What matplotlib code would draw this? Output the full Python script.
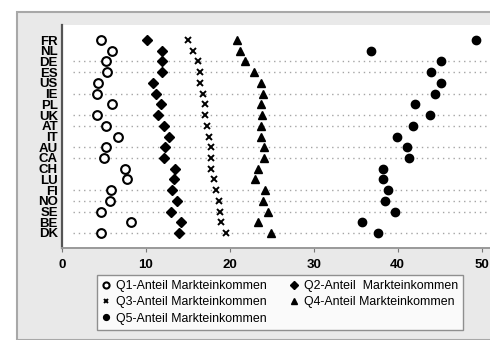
import numpy as np
import matplotlib
matplotlib.use("Agg")
import matplotlib.pyplot as plt
from matplotlib.patches import Rectangle

plt.rcParams['font.family'] = ['Liberation Sans', 'DejaVu Sans']

# data (share of market income, %)
countries = ["FR", "NL", "DE", "ES", "US", "IE", "PL", "UK", "AT", "IT",
             "AU", "CA", "CH", "LU", "FI", "NO", "SE", "BE", "DK"]
q1 = [4.7, 5.9, 5.3, 5.4, 4.3, 4.2, 5.9, 4.2, 5.3, 6.7,
      5.3, 5.0, 7.5, 7.8, 5.8, 5.7, 4.6, 8.2, 4.6]
q2 = [10.1, 11.9, 11.9, 11.9, 10.8, 11.2, 11.8, 11.4, 12.2, 12.7,
      12.3, 12.2, 13.5, 13.3, 13.1, 13.7, 13.0, 14.2, 13.9]
q3 = [15.0, 15.6, 16.2, 16.4, 16.5, 16.8, 17.0, 17.0, 17.3, 17.5,
      17.8, 17.8, 17.8, 18.1, 18.4, 18.7, 18.8, 18.9, 19.6]
q4 = [20.9, 21.2, 21.8, 22.9, 23.7, 23.9, 23.7, 23.8, 23.7, 23.7,
      24.1, 24.1, 23.4, 23.0, 24.2, 24.0, 24.6, 23.4, 24.9]
q5 = [49.3, 36.8, 45.2, 44.0, 45.2, 44.4, 42.1, 43.9, 41.8, 39.9,
      41.1, 41.4, 38.3, 38.2, 38.9, 38.5, 39.7, 35.8, 37.7]
dotted = [False, False, True, True, False, True, False, True, True, False,
          True, True, False, False, True, True, True, False, True]
labels = ["Q1-Anteil Markteinkommen", "Q2-Anteil  Markteinkommen",
          "Q3-Anteil Markteinkommen", "Q4-Anteil Markteinkommen",
          "Q5-Anteil Markteinkommen"]

fig = plt.figure(figsize=(4.9, 3.4), dpi=100)
fig.patch.set_facecolor("white")
# grey outer panel
fig.patches.append(Rectangle((17 / 490, 0), 1, 1 - 12 / 340, transform=fig.transFigure,
                             facecolor="#e9e9e9", edgecolor="#a8a8a8", lw=1.5, zorder=-5))

ax = fig.add_axes([62 / 490, 1 - 248 / 340, 1 - 62 / 490, (248 - 25) / 340])
ax.set_facecolor("white")

y = np.arange(len(countries))
for yi, d in zip(y, dotted):
    if d:
        ax.plot([1.3, 51], [yi, yi], color="#a5a5a5", ls=(0, (1, 2.8)), lw=1.0, zorder=1)

h1, = ax.plot(q1, y, 'o', mfc="white", mec="black", mew=1.5, ms=6.3, ls="none", zorder=3)
h2, = ax.plot(q2, y, 'D', color="black", ms=5.3, ls="none", zorder=3)
h3, = ax.plot(q3, y, 'x', color="black", mew=1.4, ms=5, ls="none", zorder=3)
h4, = ax.plot(q4, y, '^', color="black", ms=6.3, ls="none", zorder=3)
h5, = ax.plot(q5, y, 'o', color="black", ms=6, ls="none", zorder=3)

ax.set_xlim(0, 51)
ax.set_ylim(len(countries) - 1 + 1.4, -1.4)
ax.set_yticks(y)
ax.set_yticklabels(countries, fontweight="bold", fontsize=9.5)
ax.tick_params(axis="y", length=0, pad=3)
ax.set_xticks([0, 10, 20, 30, 40, 50])
ax.tick_params(axis="x", length=3, color="#777777", labelsize=9.5, pad=5)
for t in ax.get_xticklabels():
    t.set_fontweight("bold")

for s in ["top", "right"]:
    ax.spines[s].set_visible(False)
ax.spines["left"].set_color("#555555")
ax.spines["left"].set_linewidth(1.6)
ax.spines["bottom"].set_color("#999999")
ax.spines["bottom"].set_linewidth(1.4)

# row-wise order in a 2-column legend
handles = [h1, h3, h5, h2, h4]
order_labels = [labels[0], labels[2], labels[4], labels[1], labels[3]]
leg = fig.legend(handles, order_labels, ncol=2, loc="upper left",
                 bbox_to_anchor=(91 / 490, 1 - 269 / 340), fontsize=8.9,
                 frameon=True, fancybox=False, edgecolor="#777777",
                 handlelength=0.6, handletextpad=0.5, columnspacing=1.9,
                 labelspacing=0.35, borderpad=0.4, markerscale=0.7)
leg.get_frame().set_linewidth(1.0)

fig.savefig("out.png", dpi=100)
